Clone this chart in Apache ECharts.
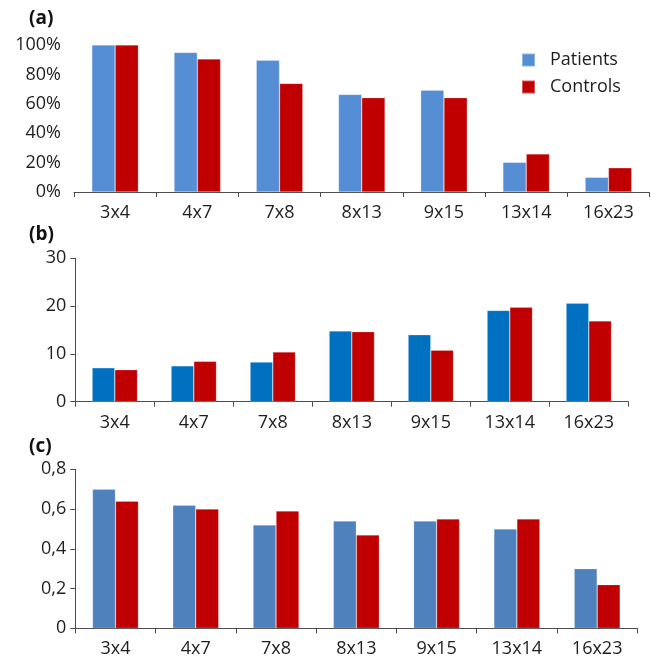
<!DOCTYPE html>
<html>
<head>
<meta charset="utf-8">
<style>
  html, body { margin: 0; padding: 0; background: #fff; }
  #chart { width: 651px; height: 662px; }
</style>
<script src="https://cdn.jsdelivr.net/npm/echarts@6/dist/echarts.min.js"></script>
</head>
<body>
<div id="chart"></div>
<script>
// Chromosome pairs shared by all three panels
const categories = ['3x4', '4x7', '7x8', '8x13', '9x15', '13x14', '16x23'];

// (a) percentages
const patientsA = [100, 95, 89.6, 66.4, 69.2, 20.2, 10];
const controlsA = [100, 90.5, 73.9, 64.2, 64.2, 25.9, 16.5];

// (b) counts
const patientsB = [7.1, 7.5, 8.3, 14.8, 14.0, 19.1, 20.6];
const controlsB = [6.7, 8.45, 10.4, 14.65, 10.8, 19.75, 16.9];

// (c) ratios
const patientsC = [0.70, 0.62, 0.52, 0.54, 0.54, 0.50, 0.30];
const controlsC = [0.64, 0.60, 0.59, 0.47, 0.55, 0.55, 0.22];

// Tick label sets
const ticksA = [0, 20, 40, 60, 80, 100];
const ticksB = [0, 10, 20, 30];
const ticksC = [0, 0.2, 0.4, 0.6, 0.8];

const FONT = '"Open Sans", "Noto Sans", sans-serif';
const TEXT = '#1e1e1e';
const AXIS = '#4d4d4d';
const RED = '#C00000';
const FS = 18;

const chart = echarts.init(document.getElementById('chart'), null, { renderer: 'canvas' });

function xAxis(gridIndex) {
  return {
    type: 'category',
    gridIndex,
    data: categories,
    boundaryGap: true,
    axisLine: { show: true, lineStyle: { color: AXIS, width: 1 } },
    axisTick: { show: true, alignWithLabel: false, length: 5, lineStyle: { color: AXIS } },
    axisLabel: { color: TEXT, fontFamily: FONT, fontSize: FS, margin: 12 },
    splitLine: { show: false }
  };
}

function yAxis(gridIndex, ticks, showLine, fmt) {
  return {
    type: 'value',
    gridIndex,
    min: ticks[0],
    max: ticks[ticks.length - 1],
    interval: ticks[1] - ticks[0],
    axisLine: { show: showLine, lineStyle: { color: AXIS, width: 1 } },
    axisTick: { show: showLine, length: 5, lineStyle: { color: AXIS } },
    axisLabel: { color: TEXT, fontFamily: FONT, fontSize: FS, margin: showLine ? 9 : 13, formatter: fmt },
    splitLine: { show: false }
  };
}

function bar(name, data, idx, color, width) {
  return {
    name,
    type: 'bar',
    xAxisIndex: idx,
    yAxisIndex: idx,
    data,
    barWidth: width,
    barGap: '0%',
    itemStyle: { color, borderColor: 'rgba(255,255,255,0.35)', borderWidth: 0.6 },
    emphasis: { disabled: true }
  };
}

const option = {
  animation: false,
  backgroundColor: '#ffffff',
  textStyle: { fontFamily: FONT },
  grid: [
    { left: 74, top: 45, width: 575.5, height: 147 },
    { left: 75.3, top: 258.3, width: 553, height: 143.4 },
    { left: 75.3, top: 469.3, width: 562, height: 159 }
  ],
  legend: {
    data: ['Patients', 'Controls'],
    orient: 'vertical',
    left: 521,
    top: 49,
    padding: 0,
    itemWidth: 13,
    itemHeight: 13,
    itemGap: 5,
    icon: 'rect',
    selectedMode: false,
    textStyle: { color: TEXT, fontFamily: FONT, fontSize: FS, lineHeight: 22, padding: [0, 0, 0, 10] }
  },
  xAxis: [xAxis(0), xAxis(1), xAxis(2)],
  yAxis: [
    yAxis(0, ticksA, false, v => v + '%'),
    yAxis(1, ticksB, true, v => String(v)),
    yAxis(2, ticksC, true, v => (v === 0 ? '0' : v.toFixed(1).replace('.', ',')))
  ],
  graphic: [
    { type: 'text', left: 29, top: 9, style: { text: '(a)', fill: '#111', font: 'bold 19px ' + FONT } },
    { type: 'text', left: 29, top: 225, style: { text: '(b)', fill: '#111', font: 'bold 19px ' + FONT } },
    { type: 'text', left: 29, top: 437, style: { text: '(c)', fill: '#111', font: 'bold 19px ' + FONT } }
  ],
  series: [
    bar('Patients', patientsA, 0, '#558ED5', 23.3),
    bar('Controls', controlsA, 0, RED, 23.3),
    bar('Patients b', patientsB, 1, '#0070C0', 22.7),
    bar('Controls b', controlsB, 1, RED, 22.7),
    bar('Patients c', patientsC, 2, '#4F81BD', 23),
    bar('Controls c', controlsC, 2, RED, 23)
  ]
};

chart.setOption(option);
</script>
</body>
</html>
